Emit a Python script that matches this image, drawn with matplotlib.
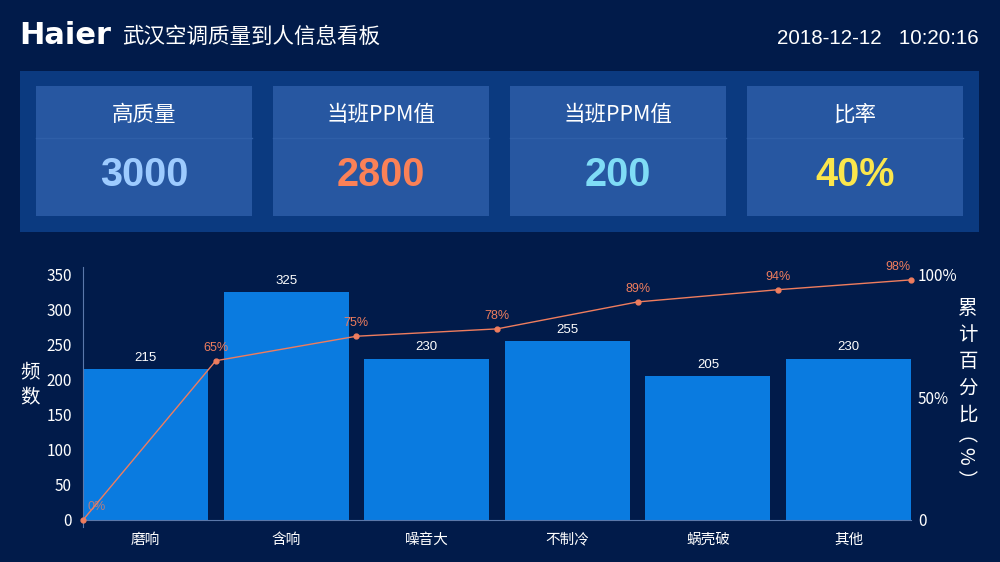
import matplotlib
matplotlib.use("Agg")
import matplotlib.pyplot as plt
from matplotlib.patches import Rectangle

plt.rcParams['font.family'] = ['Noto Sans CJK SC', 'DejaVu Sans']

# ---- данные ----
header_title = "武汉空调质量到人信息看板"
header_time = "2018-12-12   10:20:16"

card_titles = ["高质量", "当班PPM值", "当班PPM值", "比率"]
card_values = ["3000", "2800", "200", "40%"]
card_colors = ["#9dcbff", "#fb8157", "#7fdcf6", "#fbe64c"]

categories = ["磨响", "含响", "噪音大", "不制冷", "蜗壳破", "其他"]
counts = [215, 325, 230, 255, 205, 230]
cum_pct = [0, 65, 75, 78, 89, 94, 98]

BG = "#011b4a"
PANEL = "#0b3a80"
CARD = "#2757a1"
BAR = "#0a7be0"
LINE = "#ef7d5e"
AXIS = "#5b78aa"

W, H = 1000, 562
fig = plt.figure(figsize=(W / 100, H / 100), dpi=100, facecolor=BG)

# фоновый слой в пиксельных координатах
bg = fig.add_axes([0, 0, 1, 1])
bg.set_xlim(0, W)
bg.set_ylim(H, 0)
bg.axis("off")
bg.set_facecolor(BG)

bg.text(19, 35, "Haier", family="DejaVu Sans", fontweight="bold",
        fontsize=22, color="white", ha="left", va="center")
bg.text(122, 37, header_title, fontsize=15.5, color="white", ha="left", va="center")
bg.text(979, 38, header_time, family="Liberation Sans", fontsize=14.8,
        color="white", ha="right", va="center")

# панель с карточками
bg.add_patch(Rectangle((20, 71), 959, 161, facecolor=PANEL, edgecolor="none"))
card_x = [36, 273, 510, 747]
for x0, title, val, col in zip(card_x, card_titles, card_values, card_colors):
    bg.add_patch(Rectangle((x0, 86), 216, 130, facecolor=CARD, edgecolor="none"))
    bg.plot([x0, x0 + 216], [138, 138], color="#2f5fa8", lw=1)
    bg.text(x0 + 108, 115, title, fontsize=15.5, color="white", ha="center", va="center")
    bg.text(x0 + 108, 175, val, family="Liberation Sans", fontweight="bold",
            fontsize=28.5, color=col, ha="center", va="center")

# ---- диаграмма Парето ----
left, right, top, bottom = 83, 911, 267, 527
ax = fig.add_axes([left / W, (H - bottom) / H, (right - left) / W, (bottom - top) / H])
ax.set_facecolor("none")

bw = 0.889
xs = list(range(len(categories)))
bars = ax.bar(xs, counts, width=bw, color=BAR, zorder=2)
for b, v in zip(bars, counts):
    ax.annotate(str(v), (b.get_x() + b.get_width() / 2, v), xytext=(0, 4),
                textcoords="offset points", ha="center", va="bottom",
                family="Liberation Sans", fontsize=9.5, color="white")

ax.set_xlim(-bw / 2, len(categories) - 1 + bw / 2)
ax.set_ylim(-10, 361.4)
ax.set_yticks(range(0, 351, 50))
ax.set_xticks(xs)
ax.set_xticklabels(categories)
ax.tick_params(axis="y", length=0, pad=8, labelsize=11, colors="white")
ax.tick_params(axis="x", length=0, pad=9, labelsize=10.5, colors="white")
for s in ["top", "right"]:
    ax.spines[s].set_visible(False)
ax.spines["bottom"].set_position(("data", 0))
ax.spines["bottom"].set_color(AXIS)
ax.spines["left"].set_color(AXIS)

ax2 = ax.twinx()
ax2.set_ylim(-10 * 100 / 350, 361.4 * 100 / 350)
ax2.set_yticks([0, 50, 100])
ax2.set_yticklabels(["0", "50%", "100%"])
ax2.tick_params(axis="y", length=0, pad=5, labelsize=11, colors="white")
for s in ax2.spines.values():
    s.set_visible(False)

px = [-bw / 2] + [i + 0.5 for i in range(len(categories) - 1)] + [len(categories) - 1 + bw / 2]
ax2.plot(px, cum_pct, color=LINE, lw=1, marker="o", markersize=3.5, zorder=3,
         clip_on=False)
for i, (x, p) in enumerate(zip(px, cum_pct)):
    if i == 0:
        ha, dx = "left", 3
    elif i == len(px) - 1:
        ha, dx = "right", 0
    else:
        ha, dx = "center", 0
    ax2.annotate(f"{p}%", (x, p), xytext=(dx, 5), textcoords="offset points",
                 ha=ha, va="bottom", family="Liberation Sans", fontsize=9,
                 color=LINE, alpha=0.75 if i == 0 else 1)

# подписи осей
bg.text(30, 385, "频\n数", fontsize=14, color="white", ha="center", va="center",
        linespacing=1.3)
for j, ch in enumerate("累计百分比"):
    bg.text(968, 308 + j * 26.7, ch, fontsize=14, color="white", ha="center", va="center")
bg.text(965, 456, "（ % ）", fontsize=14, color="white", ha="center", va="center",
        rotation=-90)

fig.savefig("out.png", dpi=100, facecolor=BG)
